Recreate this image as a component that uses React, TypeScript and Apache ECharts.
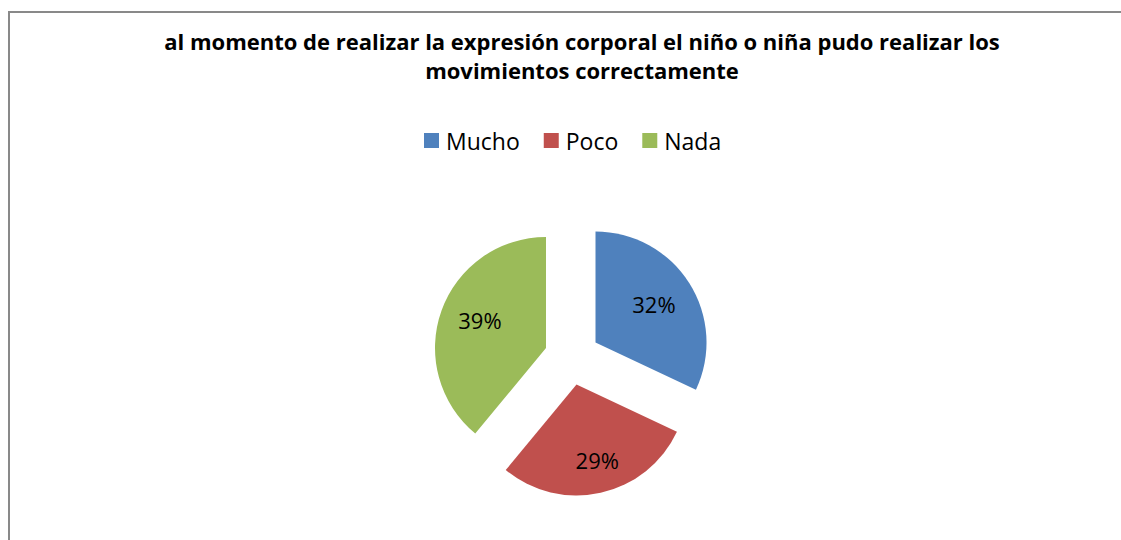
import React, { useEffect, useRef } from 'react';
import * as echarts from 'echarts';

const titleLines = [
  'al momento de realizar la expresión corporal el niño o niña pudo realizar los',
  'movimientos correctamente',
];
const categories = ['Mucho', 'Poco', 'Nada'];
const values = [32, 29, 39];
const colors = ['#4F81BD', '#C0504D', '#9BBB59'];

// layout: apex (center) of each exploded slice, in px
const sliceCenters = [
  [595.5, 342.5],
  [576.5, 384.5],
  [546, 348],
];
const labelShift = [
  [9, -7],
  [8, 18],
  [-11, -8],
];

const FONT = '"Open Sans", "Noto Sans", sans-serif';

export default function App() {
  const ref = useRef<HTMLDivElement>(null);
  useEffect(() => {
    if (!ref.current) return;
    const chart = echarts.init(ref.current, undefined, { renderer: 'svg' });
    const series = categories.map((_, i) => ({
      type: 'pie',
      silent: true,
      center: sliceCenters[i],
      radius: 111,
      startAngle: 90,
      clockwise: true,
      avoidLabelOverlap: false,
      emphasis: { disabled: true },
      label: {
        show: false,
        position: 'inside',
        formatter: '{c}%',
        fontSize: 22,
        fontFamily: FONT,
        color: '#000',
      },
      labelLine: { show: false },
      labelLayout: () => ({ dx: labelShift[i][0], dy: labelShift[i][1] }),
      itemStyle: { borderWidth: 0 },
      data: categories.map((c, j) =>
        j === i
          ? { name: c, value: values[j], itemStyle: { color: colors[j] }, label: { show: true } }
          : { name: '', value: values[j], itemStyle: { color: 'rgba(0,0,0,0)' }, label: { show: false } }
      ),
    }));
    chart.setOption({
      animation: false,
      backgroundColor: '#fff',
      title: {
        text: titleLines.join('\n'),
        left: 582,
        top: 26,
        textAlign: 'center',
        padding: 0,
        textStyle: {
          fontFamily: FONT,
          fontWeight: 'bold',
          fontSize: 22,
          lineHeight: 29,
          color: '#000',
        },
      },
      legend: {
        data: categories.map((c, j) => ({ name: c, itemStyle: { color: colors[j] } })),
        left: 424,
        top: 129,
        icon: 'rect',
        itemWidth: 15,
        itemHeight: 15,
        itemGap: 24,
        padding: 0,
        textStyle: { fontFamily: FONT, fontSize: 23, color: '#000', padding: [0, 0, 0, 2] },
        selectedMode: false,
      },
      graphic: [
        {
          type: 'rect',
          z: -10,
          silent: true,
          shape: { x: 9, y: 12, width: 1300, height: 700 },
          style: { fill: 'none', stroke: '#898989', lineWidth: 2 },
        },
      ],
      series,
    });
    return () => chart.dispose();
  }, []);
  return (
    <div
      ref={ref}
      style={{ position: 'absolute', left: 0, top: 0, width: 1121, height: 540 }}
    />
  );
}
